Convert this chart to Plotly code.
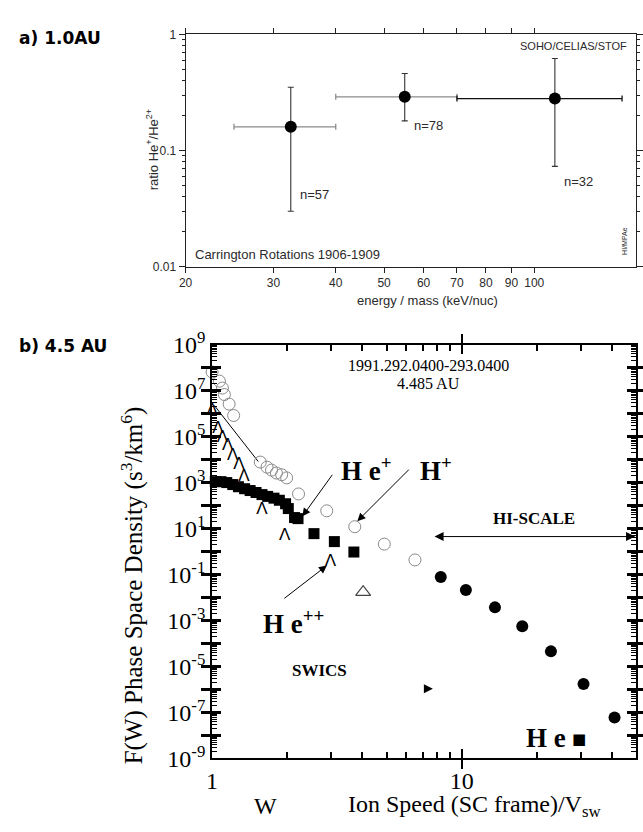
import numpy as np
import plotly.graph_objects as go

W, H = 643, 832


def fx(p):
    return p / W


def fy(p):
    return 1 - p / H


# ---------------- panel a) 1.0 AU : He+/He2+ ratio ----------------
energy = [32.5, 55.0, 110.0]          # keV/nuc
energy_lo = [25.0, 40.0, 70.0]
energy_hi = [40.0, 70.0, 150.0]
ratio = [0.16, 0.29, 0.28]
ratio_lo = [0.030, 0.18, 0.073]
ratio_hi = [0.35, 0.46, 0.62]
n_counts = [57, 78, 32]

x_ticks_a = [20, 30, 40, 50, 60, 70, 80, 90, 100]
y_ticks_a = [0.01, 0.1, 1]
y_ticklabels_a = ["0.01", "0.1", "1"]

# ---------------- panel b) 4.5 AU : phase space density ----------------
h1_w = [1.0, 1.07, 1.10, 1.12, 1.17, 1.22, 1.56, 1.66, 1.73, 1.81, 1.90, 1.99,
        2.22, 2.88, 3.73, 4.9, 6.5]
h1_f = [6.5e7, 2.6e7, 1.3e7, 6.8e6, 2.6e6, 8.3e5, 7.8e3, 4.7e3, 3.5e3, 2.6e3,
        2.2e3, 1.6e3, 3.2e2, 59, 12, 2.1, 0.43]

he1_w = [1.03, 1.085, 1.145, 1.21, 1.275, 1.35, 1.42, 1.50, 1.585, 1.67, 1.77,
         1.86, 1.97, 2.02, 2.14, 2.21, 2.56, 3.09, 3.70]
he1_f = [1.1e3, 1.1e3, 1.0e3, 8.2e2, 6.6e2, 5.4e2, 4.5e2, 3.7e2, 3.0e2, 2.5e2,
         2.1e2, 1.7e2, 1.2e2, 74, 30, 27, 6.0, 2.7, 0.95]

he2_w = [1.0, 1.055, 1.10, 1.155, 1.21, 1.28, 1.34, 1.585, 1.955, 2.98, 4.03]
he2_f = [1.35e6, 2.3e5, 8.7e4, 3.9e4, 1.5e4, 5.7e3, 1.8e3, 63, 4.8, 0.36, 0.017]

hiscale_w = [8.25, 10.4, 13.6, 17.5, 22.8, 30.8, 41.0]
hiscale_f = [0.077, 0.021, 3.7e-3, 5.6e-4, 4.5e-5, 1.7e-6, 5.9e-8]

guide_w = [1.02, 1.53]
guide_f = [2.3e6, 8.3e3]

y_exp_b = list(range(-9, 10))

SANS = "Liberation Sans"
SERIF = "Liberation Serif"
GREY_TXT = "#2a2a2a"

fig = go.Figure()

# panel a traces
h_colors = ["#8c8c8c", "#8c8c8c", "#111111"]
for i in range(len(energy)):
    fig.add_trace(go.Scatter(
        x=[energy[i]], y=[ratio[i]], mode="markers",
        marker=dict(size=12, color="black"),
        error_x=dict(type="data", symmetric=False,
                     array=[energy_hi[i] - energy[i]],
                     arrayminus=[energy[i] - energy_lo[i]],
                     color=h_colors[i], thickness=1.3, width=3),
        error_y=dict(type="data", symmetric=False,
                     array=[ratio_hi[i] - ratio[i]],
                     arrayminus=[ratio[i] - ratio_lo[i]],
                     color="#333333", thickness=1.1, width=3),
        xaxis="x", yaxis="y", cliponaxis=False, hoverinfo="skip",
    ))

# panel b traces
fig.add_trace(go.Scatter(
    x=guide_w, y=guide_f, mode="lines", line=dict(color="black", width=1),
    xaxis="x2", yaxis="y2", hoverinfo="skip"))
fig.add_trace(go.Scatter(
    x=h1_w, y=h1_f, mode="markers",
    marker=dict(symbol="circle-open", size=12, color="#8a8a8a",
                line=dict(width=1)),
    xaxis="x2", yaxis="y2", cliponaxis=False, hoverinfo="skip"))
fig.add_trace(go.Scatter(
    x=he2_w[:-1], y=he2_f[:-1], mode="text", text=["Λ"] * (len(he2_w) - 1),
    textfont=dict(family=SANS, size=17, color="black"),
    xaxis="x2", yaxis="y2", cliponaxis=False, hoverinfo="skip"))
fig.add_trace(go.Scatter(
    x=he2_w[-1:], y=he2_f[-1:], mode="markers",
    marker=dict(symbol="triangle-up-open", size=13, color="#444444",
                line=dict(width=1.2)),
    xaxis="x2", yaxis="y2", cliponaxis=False, hoverinfo="skip"))
fig.add_trace(go.Scatter(
    x=he1_w, y=he1_f, mode="markers",
    marker=dict(symbol="square", size=11, color="black"),
    xaxis="x2", yaxis="y2", cliponaxis=False, hoverinfo="skip"))
fig.add_trace(go.Scatter(
    x=hiscale_w, y=hiscale_f, mode="markers",
    marker=dict(symbol="circle", size=12, color="black"),
    xaxis="x2", yaxis="y2", cliponaxis=False, hoverinfo="skip"))

# empty traces that keep the minor-tick overlay axes alive
for xa, ya in (("x", "y3"), ("x2", "y4"), ("x3", "y2")):
    fig.add_trace(go.Scatter(x=[None], y=[None], mode="markers",
                             xaxis=xa, yaxis=ya, hoverinfo="skip",
                             showlegend=False))

# minor tick positions
minor_a_y = [m * 10.0 ** e for e in (-2, -1) for m in range(2, 10)]
minor_b_x = [2, 3, 4, 5, 6, 7, 8, 9, 20, 30, 40]
minor_b_y = [m * 10.0 ** e for e in range(-9, 9) for m in range(2, 10)]

range_a_x = [np.log10(20), np.log10(160)]
range_b_x = [0, np.log10(50)]

common = dict(showgrid=False, zeroline=False)

fig.update_layout(
    width=W, height=H,
    margin=dict(l=0, r=0, t=0, b=0),
    paper_bgcolor="white", plot_bgcolor="white",
    showlegend=False,
    xaxis=dict(
        domain=[fx(182), fx(641)], anchor="y", type="log", range=range_a_x,
        tickvals=x_ticks_a, ticktext=[str(v) for v in x_ticks_a],
        ticks="outside", ticklen=5, tickwidth=1, tickcolor="#222",
        showline=True, linecolor="#222", linewidth=1, mirror="allticks",
        tickfont=dict(family=SANS, size=12, color=GREY_TXT), **common,
    ),
    yaxis=dict(
        domain=[fy(259), fy(18)], anchor="x", type="log", range=[-2, 0],
        tickvals=y_ticks_a, ticktext=y_ticklabels_a,
        ticks="outside", ticklen=6, tickwidth=1, tickcolor="#222",
        showline=True, linecolor="#222", linewidth=1, mirror="allticks",
        tickfont=dict(family=SANS, size=12, color=GREY_TXT), **common,
    ),
    # minor ticks of panel a, left and right
    yaxis3=dict(
        overlaying="y", anchor="x", side="left", type="log", range=[-2, 0],
        tickvals=minor_a_y, ticktext=[""] * len(minor_a_y),
        showticklabels=False,
        ticks="outside", ticklen=3, tickwidth=1, tickcolor="#222",
        showline=True, linecolor="#222", linewidth=1, mirror="allticks",
        **common,
    ),
    xaxis2=dict(
        domain=[fx(209), fx(641)], anchor="y2", type="log", range=range_b_x,
        tickvals=[1, 10], ticktext=["1", "10"],
        ticks="inside", ticklen=9, tickwidth=2, tickcolor="black",
        showline=True, linecolor="black", linewidth=2, mirror="allticks",
        tickfont=dict(family=SERIF, size=24, color="black"), **common,
    ),
    yaxis2=dict(
        domain=[fy(769), fy(340)], anchor="x2", type="log", range=[-9, 9],
        tickvals=[10.0 ** e for e in y_exp_b],
        ticktext=[f"10<sup>{e}</sup>" if e % 2 else "" for e in y_exp_b],
        ticks="inside", ticklen=9, tickwidth=2.5, tickcolor="black",
        showline=True, linecolor="black", linewidth=2, mirror="allticks",
        tickfont=dict(family=SERIF, size=24, color="black"), **common,
    ),
    # minor ticks of panel b
    xaxis3=dict(
        overlaying="x2", anchor="y2", side="bottom", type="log",
        range=range_b_x,
        tickvals=minor_b_x, ticktext=[""] * len(minor_b_x),
        showticklabels=False,
        ticks="inside", ticklen=6, tickwidth=1.5, tickcolor="black",
        showline=True, linecolor="black", linewidth=2, mirror="allticks",
        **common,
    ),
    yaxis4=dict(
        overlaying="y2", anchor="x2", side="left", type="log", range=[-9, 9],
        tickvals=minor_b_y, ticktext=[""] * len(minor_b_y),
        showticklabels=False,
        ticks="inside", ticklen=5, tickwidth=1.2, tickcolor="black",
        showline=True, linecolor="black", linewidth=2, mirror="allticks",
        **common,
    ),
)

ann = []


def text(x, y, s, size, family=SANS, color="black", angle=0, xanchor="center",
         bold=False):
    if bold:
        s = f"<b>{s}</b>"
    ann.append(dict(x=fx(x), y=fy(y), xref="paper", yref="paper", text=s,
                    showarrow=False, xanchor=xanchor, yanchor="middle",
                    textangle=angle,
                    font=dict(family=family, size=size, color=color)))


def arrow(hx, hy, tx, ty, both=False, size=1.6):
    ann.append(dict(x=fx(hx), y=fy(hy), xref="paper", yref="paper",
                    ax=tx - hx, ay=ty - hy, text="", showarrow=True,
                    arrowhead=2, startarrowhead=2, arrowsize=size,
                    startarrowsize=size, arrowwidth=1, arrowcolor="black",
                    arrowside="end+start" if both else "end"))


# panel labels
text(10, 22, "a) 1.0AU", 17, family="DejaVu Sans", xanchor="left", bold=True)
text(10, 341, "b) 4.5 AU", 17, family="DejaVu Sans", xanchor="left", bold=True)

# panel a texts
text(148, 138, "ratio He<sup>+</sup>/He<sup>2+</sup>", 13, color=GREY_TXT,
     angle=-90)
text(428, 294, "energy / mass (keV/nuc)", 13, color=GREY_TXT)
text(634, 30, "SOHO/CELIAS/STOF", 11, color=GREY_TXT, xanchor="right")
text(190, 246, "Carrington Rotations 1906-1909", 13, color=GREY_TXT,
     xanchor="left")
text(629, 232, "HI/MPAe", 7, color=GREY_TXT, angle=-90)

label_shift = [17, -5, -15]
for i in range(len(energy)):
    ann.append(dict(x=np.log10(energy[i]), y=np.log10(ratio_lo[i]),
                    xref="x", yref="y", text=f"n={n_counts[i]}",
                    showarrow=False, xanchor="left", yanchor="middle",
                    xshift=7, yshift=label_shift[i],
                    font=dict(family=SANS, size=13, color=GREY_TXT)))

# panel b texts
text(430, 362, "1991.292.0400-293.0400", 16, family=SERIF)
text(430, 380, "4.485 AU", 16, family=SERIF)
text(366, 469, "H e<sup>+</sup>", 27, family=SERIF, bold=True)
text(437, 469, "H<sup>+</sup>", 27, family=SERIF, bold=True)
text(292, 628, "H e<sup>++</sup>", 27, family=SERIF, bold=True)
text(318, 678, "SWICS", 17, family=SERIF, bold=True)
text(537, 520, "HI-SCALE", 17, family=SERIF, bold=True)
text(549, 748, "H e", 27, family=SERIF, bold=True)
text(583, 749, "■", 15, family="DejaVu Sans")

text(128, 590, "F(W) Phase Space Density (s<sup>3</sup>/km<sup>6</sup>)", 25,
     family=SERIF, angle=-90)
text(263, 818, "W", 24, family=SERIF)
text(476, 818, "Ion Speed (SC frame)/V<sub>sw</sub>", 24, family=SERIF)

# arrows
arrow(301, 518, 332, 475)
arrow(357, 523, 410, 470)
arrow(326, 569, 282, 603)
arrow(640, 539, 438, 539, both=True, size=1.8)
arrow(434, 697, 424, 697, size=1.8)

fig.update_layout(annotations=ann)

fig.write_html("out.html")
